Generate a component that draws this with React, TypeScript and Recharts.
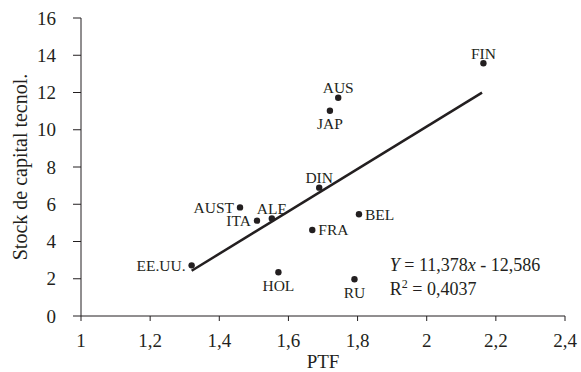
import React from 'react';
import { ScatterChart, Scatter, XAxis, YAxis, ReferenceDot } from 'recharts';

const countries = ['FIN', 'AUS', 'JAP', 'DIN', 'AUST', 'ITA', 'ALE', 'EE.UU.', 'HOL', 'BEL', 'FRA', 'RU'];
const ptf = [2.164, 1.744, 1.72, 1.689, 1.46, 1.509, 1.552, 1.32, 1.571, 1.804, 1.669, 1.791];
const stock = [13.57, 11.72, 11.02, 6.89, 5.83, 5.12, 5.24, 2.72, 2.35, 5.46, 4.62, 1.97];

const trendX = [1.32, 2.16];
const trendY = [2.43, 11.99];

const xTicks = [1, 1.2, 1.4, 1.6, 1.8, 2, 2.2, 2.4];
const yTicks = [0, 2, 4, 6, 8, 10, 12, 14, 16];

// where each country label sits relative to its dot
const labelSide: Record<string, string> = {
  FIN: 'top', AUS: 'top', JAP: 'bottom', DIN: 'top', AUST: 'left', ITA: 'left',
  ALE: 'top', 'EE.UU.': 'left', HOL: 'bottom', BEL: 'right', FRA: 'right', RU: 'bottom',
};

const points = countries.map((name, i) => ({ name, x: ptf[i], y: stock[i] }));
const trend = trendX.map((x, i) => ({ x, y: trendY[i] }));

const FONT = 'Liberation Serif, Times New Roman, serif';
const INK = '#231f20';

const fmt = (v: number) => String(v).replace('.', ',');

const Dot = (props: any) => {
  const { cx, cy, payload } = props;
  const side = labelSide[payload.name];
  let tx = cx, ty = cy, anchor: any = 'middle';
  if (side === 'top') ty = cy - 10;
  if (side === 'bottom') ty = cy + 13;
  if (side === 'left') { tx = cx - 6; anchor = 'end'; }
  if (side === 'right') { tx = cx + 6; anchor = 'start'; }
  return (
    <g>
      <circle cx={cx} cy={cy} r={3.2} fill={INK} />
      <text x={tx} y={ty} textAnchor={anchor} dominantBaseline="central" style={{ fontFamily: FONT }} fontSize={15.5} fill={INK}>
        {payload.name}
      </text>
    </g>
  );
};

const Equation = (props: any) => {
  const { viewBox } = props;
  const x = viewBox.x;
  const y = viewBox.y;
  return (
    <g style={{ fontFamily: FONT }} fontSize={18} fill={INK}>
      <text x={x} y={y}>
        <tspan fontStyle="italic">Y</tspan> = 11,378<tspan fontStyle="italic">x</tspan> - 12,586
      </text>
      <text x={x} y={y + 24}>
        R<tspan fontSize={12} dy={-7}>2</tspan><tspan dy={7}> = 0,4037</tspan>
      </text>
    </g>
  );
};

const tickStyle = { fill: INK, fontSize: 19, fontFamily: FONT };

export default function App() {
  return (
    <div style={{ position: 'absolute', left: 0, top: 0, background: '#fff', fontFamily: FONT }}>
      <ScatterChart width={581} height={372} margin={{ top: 18, right: 16, left: 0, bottom: 0 }} style={{ fontFamily: FONT }}>
        <XAxis
          type="number"
          dataKey="x"
          domain={[1, 2.4]}
          ticks={xTicks}
          tickFormatter={fmt}
          height={56}
          stroke={INK}
          tickSize={5}
          tickMargin={13}
          tick={tickStyle}
          label={{ value: 'PTF', position: 'insideBottom', offset: 4, fill: INK, fontSize: 19, fontFamily: FONT }}
        />
        <YAxis
          type="number"
          dataKey="y"
          domain={[0, 16]}
          ticks={yTicks}
          width={81}
          stroke={INK}
          tickSize={8}
          tickMargin={17}
          tick={tickStyle}
          label={{ value: 'Stock de capital tecnol.', angle: -90, position: 'insideLeft', offset: 20, style: { textAnchor: 'middle' }, fill: INK, fontSize: 20, fontFamily: FONT }}
        />
        <Scatter data={trend} line={{ stroke: INK, strokeWidth: 2.5 }} shape={() => null} isAnimationActive={false} />
        <Scatter data={points} shape={Dot} isAnimationActive={false} />
        <ReferenceDot x={1.893} y={2.42} r={0} fill="none" stroke="none" label={<Equation />} />
      </ScatterChart>
    </div>
  );
}
